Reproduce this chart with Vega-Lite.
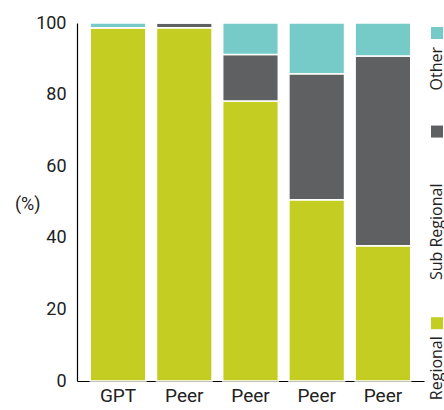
{
  "$schema": "https://vega.github.io/schema/vega-lite/v6.json",
  "padding": {"left": 14, "top": 14, "right": 0, "bottom": 0},
  "config": {"view": {"stroke": null}, "font": "Roboto"},
  "datasets": {
    "shares": [
      {"group": "GPT", "segment": "Regional", "k": 1, "share": 98.7},
      {"group": "GPT", "segment": "Sub Regional", "k": 2, "share": 0},
      {"group": "GPT", "segment": "Other", "k": 3, "share": 1.3},
      {"group": "Peer 1", "segment": "Regional", "k": 1, "share": 98.7},
      {"group": "Peer 1", "segment": "Sub Regional", "k": 2, "share": 1.3},
      {"group": "Peer 1", "segment": "Other", "k": 3, "share": 0},
      {"group": "Peer 2", "segment": "Regional", "k": 1, "share": 78.2},
      {"group": "Peer 2", "segment": "Sub Regional", "k": 2, "share": 13.0},
      {"group": "Peer 2", "segment": "Other", "k": 3, "share": 8.8},
      {"group": "Peer 3", "segment": "Regional", "k": 1, "share": 50.6},
      {"group": "Peer 3", "segment": "Sub Regional", "k": 2, "share": 35.2},
      {"group": "Peer 3", "segment": "Other", "k": 3, "share": 14.2},
      {"group": "Peer 4", "segment": "Regional", "k": 1, "share": 37.8},
      {"group": "Peer 4", "segment": "Sub Regional", "k": 2, "share": 53.0},
      {"group": "Peer 4", "segment": "Other", "k": 3, "share": 9.2}
    ],
    "legend": [
      {"label": "Other"},
      {"label": "Sub Regional"},
      {"label": "Regional"}
    ]
  },
  "spacing": 4,
  "hconcat": [
    {
      "width": 347,
      "height": 358,
      "data": {"name": "shares"},
      "mark": {"type": "bar", "stroke": "white", "strokeWidth": 1.5},
      "encoding": {
        "x": {
          "field": "group", "type": "nominal", "sort": null,
          "scale": {"paddingInner": 0.16, "paddingOuter": 0.2},
          "axis": {"title": null, "labelAngle": 0, "labelExpr": "split(datum.label, ' ')[0]", "ticks": false, "domainColor": "#000", "domainWidth": 1.2, "labelPadding": 5, "labelFontSize": 19, "labelColor": "#222", "labelFont": "Roboto"}
        },
        "y": {
          "field": "share", "type": "quantitative", "stack": "zero",
          "scale": {"domain": [0, 100]},
          "axis": {"title": "(%)", "titleAngle": 0, "titleAlign": "right", "titleBaseline": "middle", "titleX": -37, "titleY": 181, "titleFontWeight": "normal", "titleFontSize": 18, "titleColor": "#222", "titleFont": "Roboto", "values": [0, 20, 40, 60, 80, 100], "grid": false, "ticks": false, "labelPadding": 11, "labelFontSize": 18, "labelColor": "#222", "labelFont": "Roboto", "domainColor": "#000", "domainWidth": 1.2}
        },
        "color": {
          "field": "segment", "type": "nominal",
          "scale": {"domain": ["Regional", "Sub Regional", "Other"], "range": ["#C3CD22", "#5F6062", "#76CBC8"]},
          "legend": null
        },
        "order": {"field": "k", "type": "quantitative"}
      }
    },
    {
      "spacing": 0,
      "vconcat": [
        {
          "width": 12, "height": 100,
          "data": {"name": "legend"},
          "transform": [{"filter": "datum.label == 'Other'"}],
          "layer": [
            {
              "mark": {"type": "square", "size": 144, "opacity": 1},
              "encoding": {
                "y": {"field": "label", "type": "nominal", "axis": null, "bandPosition": 0.1, "scale": {"type": "band", "paddingInner": 0, "paddingOuter": 0}},
                "color": {"field": "label", "type": "nominal", "scale": {"domain": ["Regional", "Sub Regional", "Other"], "range": ["#C3CD22", "#5F6062", "#76CBC8"]}, "legend": null}
              }
            },
            {
              "mark": {"type": "text", "angle": -90, "align": "right", "baseline": "middle", "dx": -14, "fontSize": 16, "font": "Open Sans", "color": "#222"},
              "encoding": {
                "y": {"field": "label", "type": "nominal", "axis": null, "bandPosition": 0.1},
                "text": {"field": "label"}
              }
            }
          ]
        },
        {
          "width": 12, "height": 190,
          "data": {"name": "legend"},
          "transform": [{"filter": "datum.label == 'Sub Regional'"}],
          "layer": [
            {
              "mark": {"type": "square", "size": 144, "opacity": 1},
              "encoding": {
                "y": {"field": "label", "type": "nominal", "axis": null, "bandPosition": 0.045, "scale": {"type": "band", "paddingInner": 0, "paddingOuter": 0}},
                "color": {"field": "label", "type": "nominal", "scale": {"domain": ["Regional", "Sub Regional", "Other"], "range": ["#C3CD22", "#5F6062", "#76CBC8"]}, "legend": null}
              }
            },
            {
              "mark": {"type": "text", "angle": -90, "align": "right", "baseline": "middle", "dx": -52, "fontSize": 16, "font": "Open Sans", "color": "#222"},
              "encoding": {
                "y": {"field": "label", "type": "nominal", "axis": null, "bandPosition": 0.045},
                "text": {"field": "label"}
              }
            }
          ]
        },
        {
          "width": 12, "height": 68,
          "data": {"name": "legend"},
          "transform": [{"filter": "datum.label == 'Regional'"}],
          "layer": [
            {
              "mark": {"type": "square", "size": 144, "opacity": 1},
              "encoding": {
                "y": {"field": "label", "type": "nominal", "axis": null, "bandPosition": 0.15, "scale": {"type": "band", "paddingInner": 0, "paddingOuter": 0}},
                "color": {"field": "label", "type": "nominal", "scale": {"domain": ["Regional", "Sub Regional", "Other"], "range": ["#C3CD22", "#5F6062", "#76CBC8"]}, "legend": null}
              }
            },
            {
              "mark": {"type": "text", "angle": -90, "align": "right", "baseline": "middle", "dx": -13, "fontSize": 16, "font": "Open Sans", "color": "#222"},
              "encoding": {
                "y": {"field": "label", "type": "nominal", "axis": null, "bandPosition": 0.15},
                "text": {"field": "label"}
              }
            }
          ]
        }
      ]
    }
  ]
}
